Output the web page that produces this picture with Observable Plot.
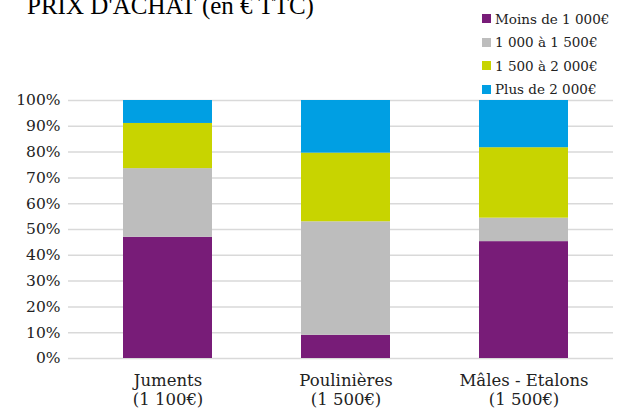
<!DOCTYPE html>
<html><head><meta charset="utf-8">
<script src="https://cdn.jsdelivr.net/npm/d3@7"></script>
<script src="https://cdn.jsdelivr.net/npm/@observablehq/plot@0.6"></script>
<style>
body{margin:0;background:#fff;}
#wrap{position:relative;width:626px;height:410px;overflow:hidden;font-family:"Liberation Serif",serif;}
#title{position:absolute;left:27px;top:-8px;font-size:25px;color:#000;white-space:nowrap;font-family:"Liberation Serif",serif;}
#legend{position:absolute;left:482px;top:7px;font-size:13.5px;color:#222;font-family:"DejaVu Serif",serif;}
#legend div{height:23.5px;display:flex;align-items:center;white-space:nowrap;}
#legend span.sw{display:inline-block;width:9px;height:9px;margin-right:4px;}
#chart{position:absolute;left:0;top:0;}
#chart svg text{font-family:"DejaVu Serif",serif;}
</style></head>
<body><div id="wrap"><div id="chart"></div><div id="title">PRIX D'ACHAT (en € TTC)</div><div id="legend"></div></div>
<script>
const categories = ["Juments", "Poulinières", "Mâles - Etalons"];
const prices = ["(1 100€)", "(1 500€)", "(1 500€)"];
const segments = ["Moins de 1 000€", "1 000 à 1 500€", "1 500 à 2 000€", "Plus de 2 000€"];
const colors = ["#781c78", "#bdbdbd", "#c8d400", "#009fe3"];
const juments = [47.0, 26.6, 17.5, 8.9];
const poulinieres = [9.0, 44.0, 26.6, 20.4];
const males = [45.3, 9.1, 27.3, 18.3];
const yTicks = [0,10,20,30,40,50,60,70,80,90,100];

const series = [juments, poulinieres, males];
const data = [];
categories.forEach((c, i) => segments.forEach((s, j) => data.push({cat: c, seg: s, value: series[i][j]})));
const labelOf = Object.fromEntries(categories.map((c, i) => [c, c + "\n" + prices[i]]));

const chart = Plot.plot({
  width: 626, height: 410,
  marginTop: 100, marginBottom: 52, marginLeft: 77, marginRight: 13,
  style: "font-family: 'DejaVu Serif', serif; font-size: 16px; color: #222; background: transparent;",
  x: {domain: categories, paddingInner: 0.5, paddingOuter: 0.25, label: null},
  y: {domain: [0, 100], label: null},
  color: {domain: segments, range: colors},
  marks: [
    Plot.ruleY(yTicks, {y: d => d, stroke: "#d9d9d9", strokeWidth: 1.5, insetLeft: -9}),
    Plot.ruleX([0], {stroke: "#d9d9d9", strokeWidth: 1.5, frameAnchor: "left"}),
    Plot.barY(data, {x: "cat", y: "value", fill: "seg", order: segments}),
    Plot.axisY({ticks: yTicks, tickFormat: d => d + "%", tickSize: 0, tickPadding: 17, fontSize: 15.5}),
    Plot.axisX({tickSize: 0, tickPadding: 14, tickFormat: d => labelOf[d], fontSize: 16.5, lineHeight: 1.15})
  ]
});
document.getElementById("chart").appendChild(chart);
const leg = document.getElementById("legend");
segments.forEach((s, i) => {
  const d = document.createElement("div");
  d.innerHTML = `<span class="sw" style="background:${colors[i]}"></span>${s}`;
  leg.appendChild(d);
});
</script>
</body></html>
